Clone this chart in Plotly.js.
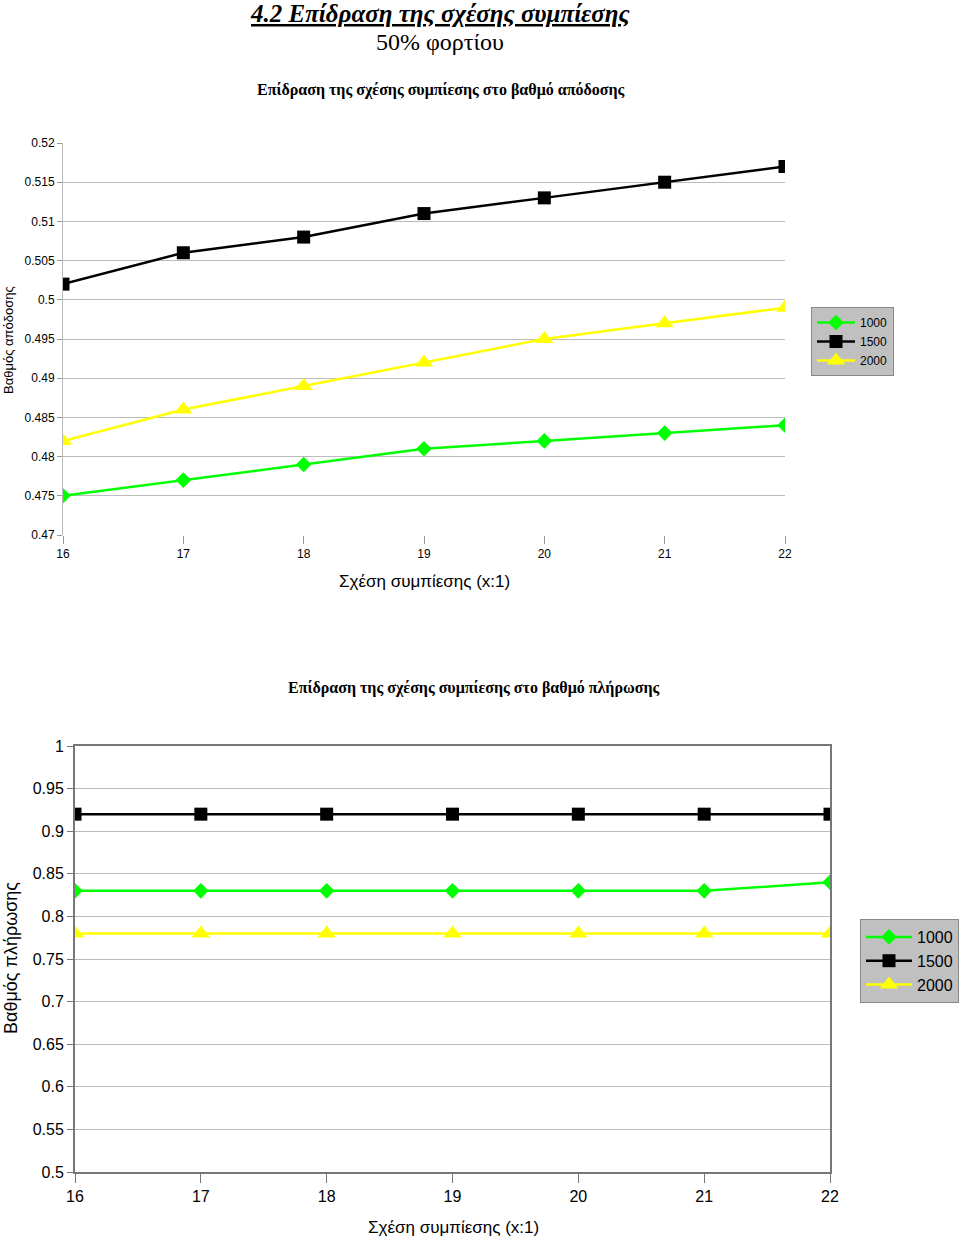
<!DOCTYPE html>
<html><head><meta charset="utf-8">
<script src="https://cdn.plot.ly/plotly-3.0.1.min.js"></script>
<style>body{margin:0;background:#fff}#c{width:960px;height:1240px}</style>
</head><body><div id="c"></div>
<script>
const ratios = [16, 17, 18, 19, 20, 21, 22];
const seriesNames = ['1000', '1500', '2000'];
const eff1000 = [0.475, 0.477, 0.479, 0.481, 0.482, 0.483, 0.484];
const eff1500 = [0.502, 0.506, 0.508, 0.511, 0.513, 0.515, 0.517];
const eff2000 = [0.482, 0.486, 0.489, 0.492, 0.495, 0.497, 0.499];
const fill1000 = [0.83, 0.83, 0.83, 0.83, 0.83, 0.83, 0.84];
const fill1500 = [0.92, 0.92, 0.92, 0.92, 0.92, 0.92, 0.92];
const fill2000 = [0.78, 0.78, 0.78, 0.78, 0.78, 0.78, 0.78];
const effTicks = [0.47, 0.475, 0.48, 0.485, 0.49, 0.495, 0.5, 0.505, 0.51, 0.515, 0.52];
const fillTicks = [0.5, 0.55, 0.6, 0.65, 0.7, 0.75, 0.8, 0.85, 0.9, 0.95, 1];

const colors = ['#00ff00', '#000000', '#ffff00'];
const symbols = ['diamond', 'square', 'triangle-up'];
const sizes = [12, 13, 16];
const W = 960, H = 1240;
const px = v => v / W, py = v => 1 - v / H;

const traces = [];
[eff1000, eff1500, eff2000].forEach((ys, i) => {
  traces.push({x: ratios, y: ys, name: seriesNames[i], type: 'scatter', mode: 'lines+markers',
    xaxis: 'x', yaxis: 'y', legend: 'legend',
    line: {color: colors[i], width: 2.5},
    marker: {symbol: symbols[i], size: sizes[i], color: colors[i]}});
});
[fill1000, fill1500, fill2000].forEach((ys, i) => {
  traces.push({x: ratios, y: ys, name: seriesNames[i], type: 'scatter', mode: 'lines+markers',
    xaxis: 'x2', yaxis: 'y2', legend: 'legend2',
    line: {color: colors[i], width: 2.5},
    marker: {symbol: symbols[i], size: sizes[i], color: colors[i]}});
});

const sans = "'Liberation Sans', Arial, sans-serif";
const serif = "'Liberation Serif', 'Times New Roman', serif";
const tickFontTop = {family: sans, size: 12, color: '#000'};
const tickFontBot = {family: sans, size: 16, color: '#000'};

function ann(text, x, y, size, family, extra) {
  return Object.assign({text: text, x: px(x), y: py(y), xref: 'paper', yref: 'paper',
    xanchor: 'center', yanchor: 'middle', showarrow: false,
    font: {family: family, size: size, color: '#000'}}, extra || {});
}

const layout = {
  width: W, height: H, margin: {l: 0, r: 0, t: 0, b: 0},
  paper_bgcolor: '#fff', plot_bgcolor: '#fff', showlegend: true,
  xaxis: {domain: [px(63), px(785)], range: [16, 22], tickvals: ratios, ticktext: ratios.map(String),
    showgrid: false, zeroline: false, showline: false, ticks: 'outside', ticklen: 8, tickcolor: '#999',
    tickfont: tickFontTop, anchor: 'y'},
  yaxis: {domain: [py(535), py(143)], range: [0.47, 0.52], tickvals: effTicks, ticktext: effTicks.map(String),
    showgrid: true, gridcolor: '#bbb', gridwidth: 1, zeroline: false, showline: true, linecolor: '#bbb',
    ticks: 'outside', ticklen: 5, tickcolor: '#999', tickfont: tickFontTop, anchor: 'x'},
  xaxis2: {domain: [px(75), px(830)], range: [16, 22], tickvals: ratios, ticktext: ratios.map(String),
    showgrid: false, zeroline: false, showline: true, linecolor: '#777', linewidth: 2, mirror: true,
    ticks: 'outside', ticklen: 9, tickcolor: '#777', tickfont: tickFontBot, anchor: 'y2'},
  yaxis2: {domain: [py(1172), py(746)], range: [0.5, 1], tickvals: fillTicks, ticktext: fillTicks.map(String),
    showgrid: true, gridcolor: '#bbb', gridwidth: 1, zeroline: false, showline: true, linecolor: '#777', linewidth: 2, mirror: true,
    ticks: 'outside', ticklen: 6, tickcolor: '#777', tickfont: tickFontBot, anchor: 'x2'},
  legend: {x: px(811), y: py(307), xanchor: 'left', yanchor: 'top', bgcolor: '#c0c0c0', bordercolor: '#888', borderwidth: 1,
    font: {family: sans, size: 12, color: '#000'}, tracegroupgap: 0, itemwidth: 38},
  legend2: {x: px(860), y: py(919), xanchor: 'left', yanchor: 'top', bgcolor: '#c0c0c0', bordercolor: '#888', borderwidth: 1,
    font: {family: sans, size: 16, color: '#000'}, tracegroupgap: 0, itemwidth: 46},
  annotations: [
    ann('<b><i><u>4.2 Επίδραση της σχέσης συμπίεσης</u></i></b>', 440, 13, 25, serif),
    ann('50% φορτίου', 440, 42, 24, serif),
    ann('<b>Επίδραση της σχέσης συμπίεσης στο βαθμό απόδοσης</b>', 440, 90, 16, serif),
    ann('Βαθμός απόδοσης', 8, 340, 13, sans, {textangle: -90}),
    ann('Σχέση συμπίεσης (x:1)', 424, 581, 17, sans),
    ann('<b>Επίδραση της σχέσης συμπίεσης στο βαθμό πλήρωσης</b>', 473, 688, 16, serif),
    ann('Βαθμός πλήρωσης', 11, 958, 18, sans, {textangle: -90}),
    ann('Σχέση συμπίεσης (x:1)', 453, 1227, 17, sans)
  ]
};
Plotly.newPlot('c', traces, layout, {displayModeBar: false, staticPlot: true});
</script></body></html>
